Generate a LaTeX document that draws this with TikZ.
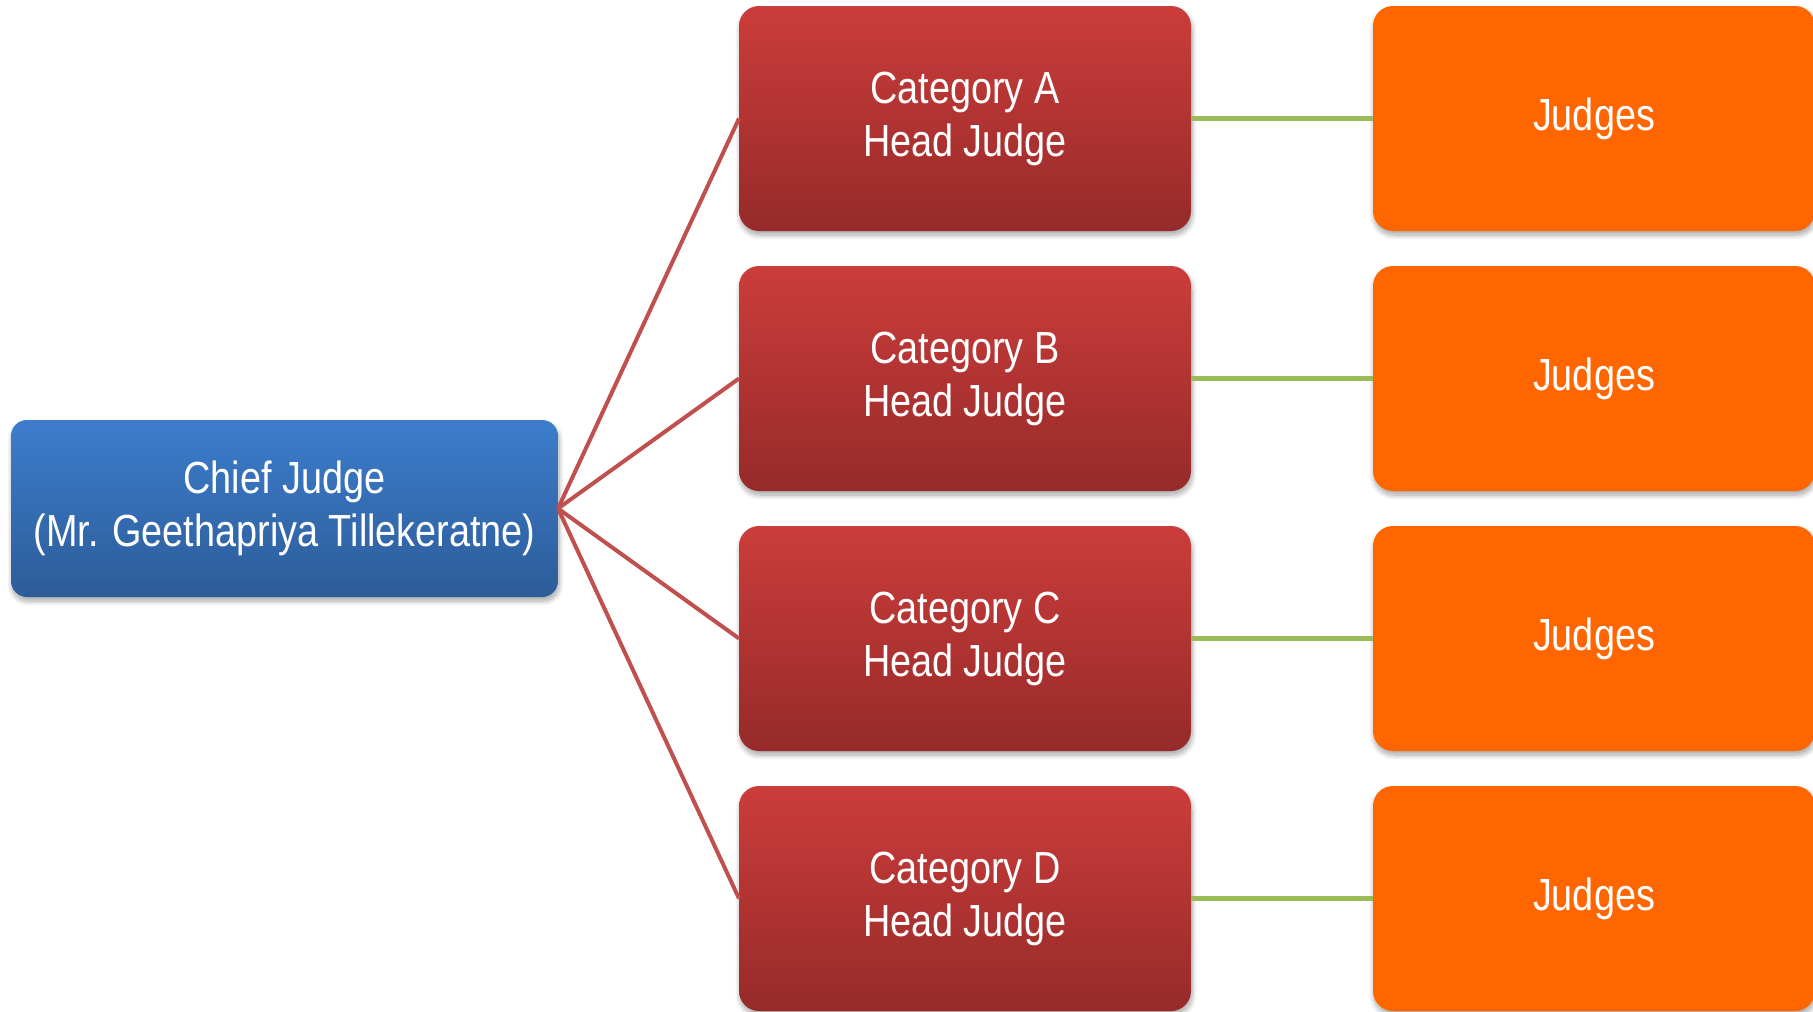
\documentclass[tikz,border=0pt]{standalone}
\usepackage{fontspec}
\newfontfamily\boxfont[FakeStretch=0.84]{Liberation Sans}
\usetikzlibrary{positioning,shadows.blur}
\definecolor{chiefTop}{HTML}{3C7DCC}
\definecolor{chiefBottom}{HTML}{2D5C99}
\definecolor{headTop}{HTML}{CB3D3A}
\definecolor{headBottom}{HTML}{962A2A}
\definecolor{judgeFill}{HTML}{FF6600}
\definecolor{redLine}{HTML}{C0504D}
\definecolor{greenLine}{HTML}{9BBB59}
\tikzstyle{CajaBase}=[rectangle, inner sep=0pt, outer sep=0pt, text=white, align=center, font=\boxfont\fontsize{45}{53}\selectfont, blur shadow={shadow blur steps=10, shadow blur radius=5pt, shadow xshift=1pt, shadow yshift=-4pt, shadow opacity=35}]
\tikzstyle{ChiefBox}=[CajaBase, rounded corners=16pt, top color=chiefTop, bottom color=chiefBottom, minimum width=547pt, minimum height=177pt]
\tikzstyle{HeadBox}=[CajaBase, rounded corners=20pt, top color=headTop, bottom color=headBottom, minimum width=452pt, minimum height=225pt]
\tikzstyle{JudgeBox}=[CajaBase, rounded corners=20pt, fill=judgeFill, minimum width=442pt, minimum height=225pt]
\tikzstyle{RamaRoja}=[draw=redLine, line width=4pt]
\tikzstyle{RamaVerde}=[draw=greenLine, line width=5pt]

\begin{document}
\begin{tikzpicture}[x=1pt, y=1pt]
	\useasboundingbox (0,0) rectangle (1813,-1012);

	%Nodos
	\node[ChiefBox]	(chief)	at (284.5,-508.5)	{Chief Judge\\(Mr. Geethapriya Tillekeratne)};

	\node[HeadBox]	(catA)	at (965,-118.5)	{Category A\\Head Judge};
	\node[HeadBox]	(catB)	[below=35pt of catA]	{Category B\\Head Judge};
	\node[HeadBox]	(catC)	[below=35pt of catB]	{Category C\\Head Judge};
	\node[HeadBox]	(catD)	[below=35pt of catC]	{Category D\\Head Judge};

	\node[JudgeBox]	(judgesA)	[right=182pt of catA]	{Judges};
	\node[JudgeBox]	(judgesB)	[right=182pt of catB]	{Judges};
	\node[JudgeBox]	(judgesC)	[right=182pt of catC]	{Judges};
	\node[JudgeBox]	(judgesD)	[right=182pt of catD]	{Judges};

	%Lineas
	\draw[RamaRoja] (chief.east) -- (catA.west);
	\draw[RamaRoja] (chief.east) -- (catB.west);
	\draw[RamaRoja] (chief.east) -- (catC.west);
	\draw[RamaRoja] (chief.east) -- (catD.west);

	\draw[RamaVerde] (catA.east) -- (judgesA.west);
	\draw[RamaVerde] (catB.east) -- (judgesB.west);
	\draw[RamaVerde] (catC.east) -- (judgesC.west);
	\draw[RamaVerde] (catD.east) -- (judgesD.west);

\end{tikzpicture}
\end{document}
